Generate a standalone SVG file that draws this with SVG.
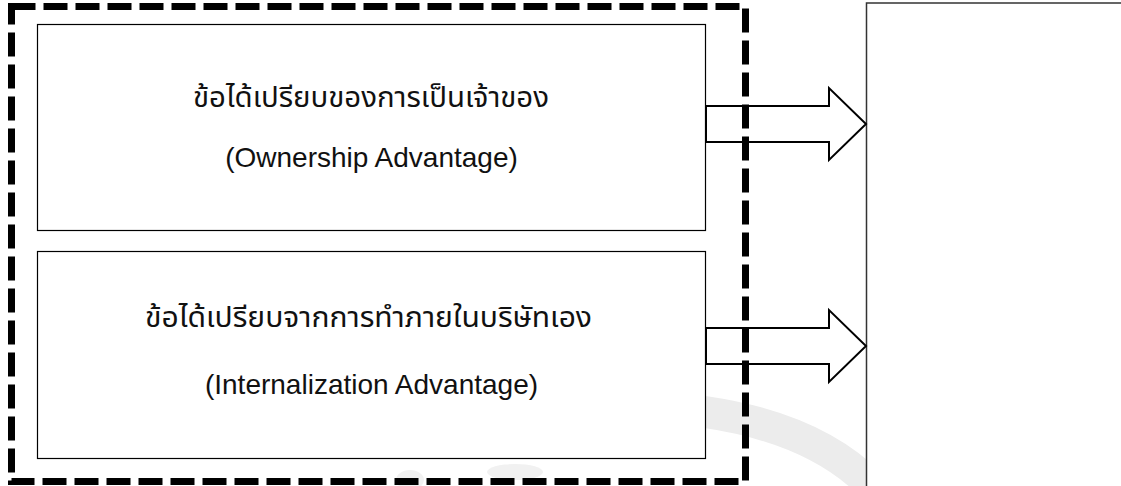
<svg xmlns="http://www.w3.org/2000/svg" width="1121" height="486" viewBox="0 0 1121 486">
<style>
.box{fill:#fff;stroke:#000;stroke-width:1.2}
.th{font-family:"Noto Sans Thai","Loma","Garuda","Tlwg Typo","Noto Sans",sans-serif;font-size:28px;fill:#111;text-anchor:middle}
.en{font-family:"Liberation Sans",Arial,sans-serif;font-size:28px;fill:#111;text-anchor:middle}
.arrow{fill:#fff;stroke:#000;stroke-width:2;stroke-linejoin:miter}
.frame{fill:none;stroke:#000;stroke-width:7;stroke-dasharray:24 8}
.wm{fill:none;stroke:#ececec;stroke-linecap:round}
</style>
<rect width="1121" height="486" fill="#fff"/>
<g id="watermark">
<path class="wm" d="M705 412 Q815 428 872 486" stroke-width="32"/>
<ellipse cx="410" cy="480" rx="14" ry="10" fill="#f1f1f1"/>
<ellipse cx="515" cy="472" rx="28" ry="8" fill="#f1f1f1"/>
</g>
<g id="target">
<rect x="866.5" y="3" width="260" height="490" fill="#fff" stroke="#333" stroke-width="1.5"/>
</g>
<g id="ownership">
<rect class="box" x="37.5" y="24.5" width="668" height="206"/>
<text class="th" x="371" y="107" textLength="356" lengthAdjust="spacingAndGlyphs">ข้อได้เปรียบของการเป็นเจ้าของ</text>
<text class="en" x="371.5" y="167">(Ownership Advantage)</text>
</g>
<g id="internalization">
<rect class="box" x="37.5" y="251.5" width="668" height="207"/>
<text class="th" x="368.5" y="327" textLength="447" lengthAdjust="spacingAndGlyphs">ข้อได้เปรียบจากการทำภายในบริษัทเอง</text>
<text class="en" x="371.5" y="394">(Internalization Advantage)</text>
</g>
<g id="connectors">
<path class="arrow" d="M706 106 H829 V88 L866 124 L829 160 V142 H706 Z"/>
<path class="arrow" d="M706 328 H829 V310 L866 346 L829 382 V364 H706 Z"/>
</g>
<g id="group-frame">
<rect class="frame" x="11.5" y="6.5" width="734" height="475"/>
</g>
</svg>
